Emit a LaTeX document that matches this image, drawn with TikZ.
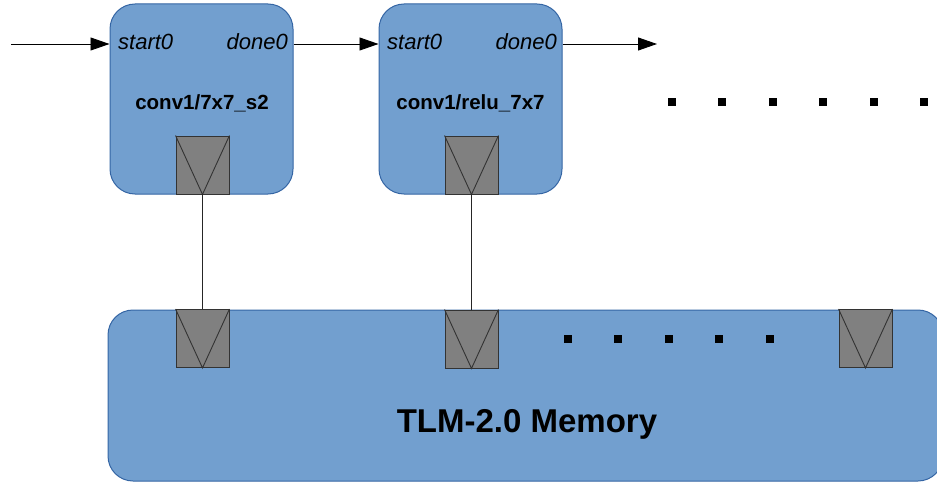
\documentclass[tikz,border=0pt]{standalone}
\usepackage{fontspec}
\setmainfont{Liberation Sans}
\usetikzlibrary{arrows.meta}
\definecolor{boxfill}{HTML}{729FCF}
\definecolor{boxline}{HTML}{3465A4}
\definecolor{portfill}{HTML}{808080}
\definecolor{portline}{HTML}{333333}
\tikzset{
  layer/.style={draw=boxline, fill=boxfill, line width=1pt, rounded corners=25pt,
    minimum width=183pt, minimum height=190pt, inner sep=0pt},
  memory/.style={draw=boxline, fill=boxfill, line width=1pt, rounded corners=25pt,
    minimum width=835pt, minimum height=171pt, inner sep=0pt},
  port/.style={draw=portline, fill=portfill, line width=0.9pt,
    minimum width=53pt, minimum height=58pt, inner sep=0pt},
  sig/.style={font=\fontsize{22}{24}\selectfont\itshape, inner sep=0pt},
  lname/.style={font=\fontsize{20.5}{23}\selectfont\bfseries, inner sep=0pt},
  flow/.style={line width=0.9pt, -{Triangle[length=19pt,width=13pt]}},
  wire/.style={line width=0.8pt, draw=black!85},
  dotsq/.style={fill=black, minimum size=8pt, inner sep=0pt},
}
\newcommand{\portmark}[1]{\draw[portline, line width=0.9pt] (#1.north west) -- (#1.south) -- (#1.north east);}
\begin{document}
\begin{tikzpicture}[x=1pt, y=-1pt]
  \useasboundingbox (0,0) rectangle (937,484);
  \clip (0,0) rectangle (937,484);

  % processing layers
  \node[layer] (b1) at (201.5,99) {};
  \node[layer] (b2) at (470.5,99) {};

  % shared memory
  \node[memory] (mem) at (525.5,395.5) {};
  \node[font=\fontsize{33}{36}\selectfont\bfseries, anchor=base, inner sep=0pt] (memlbl) at (527,432) {TLM-2.0 Memory};

  % signal labels
  \node[sig, anchor=base west] (s1) at (118,50) {start0};
  \node[sig, anchor=base east] (d1) at (288,50) {done0};
  \node[sig, anchor=base west] (s2) at (387,50) {start0};
  \node[sig, anchor=base east] (d2) at (557,50) {done0};

  \node[lname, anchor=base] (n1) at (202,110) {conv1/7x7\_s2};
  \node[lname, anchor=base] (n2) at (470.5,110) {conv1/relu\_7x7};

  % sockets on the layers
  \node[port] (p1) at (202.5,165) {};
  \node[port] (p2) at (471.5,165) {};
  \portmark{p1}
  \portmark{p2}

  % sockets on the memory
  \node[port] (m1) at (202.5,338.5) {};
  \node[port] (m2) at (471.5,339) {};
  \node[port] (m3) at (865.5,338.5) {};
  \portmark{m1}
  \portmark{m2}
  \portmark{m3}

  % socket bindings
  \draw[wire] (p1.south) -- (m1.north);
  \draw[wire] (p2.south) -- (m2.north);

  % control flow
  \coordinate (in0) at (11,44);
  \coordinate (b1in) at (b1.west |- in0);
  \coordinate (b1out) at (b1.east |- in0);
  \coordinate (b2in) at (b2.west |- in0);
  \coordinate (b2out) at (b2.east |- in0);
  \coordinate (out0) at (657,44);
  \draw[flow] (in0) -- (b1in);
  \draw[flow] (b1out) -- (b2in);
  \draw[flow] (b2out) -- (out0);

  % continuation marks
  \foreach \x [count=\i] in {672,722,773,823,874,924}
    \node[dotsq] (td\i) at (\x,102.5) {};
  \foreach \x [count=\i] in {568,618,669,719,770}
    \node[dotsq] (md\i) at (\x,339) {};
\end{tikzpicture}
\end{document}
